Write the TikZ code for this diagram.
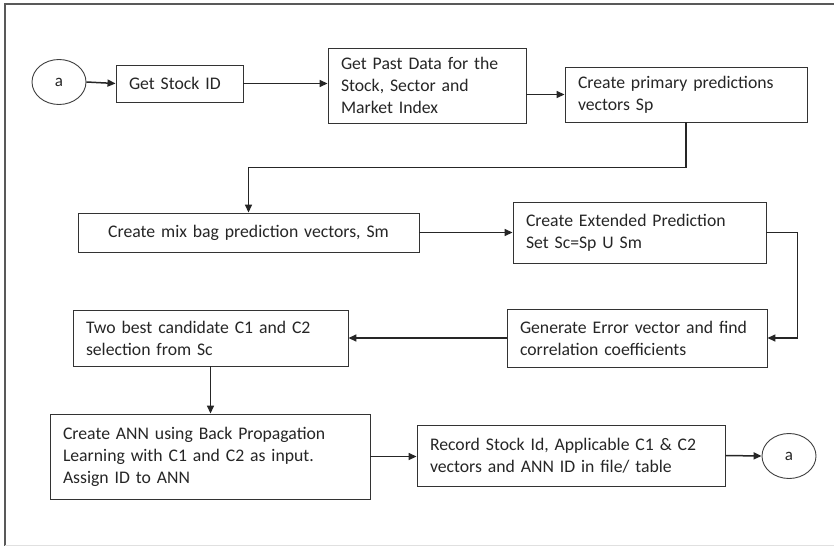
\documentclass[tikz,border=0pt]{standalone}
\usepackage{fontspec}
\setmainfont{Carlito}
\usetikzlibrary{arrows.meta,calc,shapes.geometric}
\begin{document}
\begin{tikzpicture}[x=1pt,y=-1pt,
  box/.style={draw=black!80, line width=0.9pt, align=left, inner xsep=13pt, inner ysep=0pt,
    font=\fontsize{17.7}{22}\selectfont, text=black!85},
  term/.style={draw=black!75, line width=0.9pt, ellipse, minimum width=54pt, minimum height=45pt,
    inner sep=0pt, font=\fontsize{17}{18}\selectfont, text=black!85},
  conn/.style={line width=1.5pt, draw=black!85, -{Triangle[length=8pt,width=7pt]}},
  frameline/.style={line width=1.2pt, draw=black!65}]
  % page and outer frame
  \useasboundingbox (0,0) rectangle (834,546);
  \fill[white] (0,0) rectangle (834,546);
  \draw[frameline] (834,4) -- (5,4) -- (5,546);
  \draw[line width=1pt, draw=black!12] (5,545) -- (834,545);

  % process steps
  \node[term] (a1) at (59,82) {a};
  \node[box, minimum width=127pt, text width=101pt, minimum height=37pt] (b1) at (179.5,83.5) {Get Stock ID};
  \node[box, minimum width=198pt, text width=172pt, minimum height=75pt] (b2) at (427,85.5)
    {Get Past Data for the\\Stock, Sector and\\Market Index};
  \node[box, minimum width=242pt, text width=216pt, minimum height=55pt] (b3) at (686,94.5)
    {Create primary predictions\\vectors Sp};
  \node[box, align=center, minimum width=341pt, text width=315pt, minimum height=39pt] (b4) at (248.5,232.5)
    {Create mix bag prediction vectors, Sm};
  \node[box, minimum width=253pt, text width=227pt, minimum height=61pt] (b5) at (639.5,232.5)
    {Create Extended Prediction\\Set Sc=Sp U Sm};
  \node[box, minimum width=260pt, text width=234pt, minimum height=58pt] (b6) at (637,338)
    {Generate Error vector and find\\correlation coefficients};
  \node[box, minimum width=275pt, text width=249pt, minimum height=56pt] (b7) at (210.5,338)
    {Two best candidate C1 and C2\\selection from Sc};
  \node[box, minimum width=320pt, text width=294pt, minimum height=85pt] (b8) at (210,456.5)
    {Create ANN using Back Propagation\\Learning with C1 and C2 as input.\\Assign ID to ANN};
  \node[box, minimum width=308pt, text width=282pt, minimum height=61pt] (b9) at (571,455.5)
    {Record Stock Id, Applicable C1 \& C2\\vectors and ANN ID in file/ table};
  \node[term] (a2) at (789,456) {a};

  % connectors
  \draw[conn] (a1.east) -- (b1.west);
  \draw[conn] (b1.east) -- (b1.east -| b2.west);
  \draw[conn] (b3.west -| b2.east) -- (b3.west);
  \draw[conn] (b3.south) -- ++(0,45) -| (b4.north);
  \draw[conn] (b4.east) -- (b5.west);
  \draw[conn] (b5.east) -- ++(31,0) |- (b6.east);
  \draw[conn] (b6.west) -- (b7.east);
  \draw[conn] (b7.south) -- (b7.south |- b8.north);
  \draw[conn] (b8.east) -- (b8.east -| b9.west);
  \draw[conn] (b9.east) -- (a2.west);
\end{tikzpicture}
\end{document}
